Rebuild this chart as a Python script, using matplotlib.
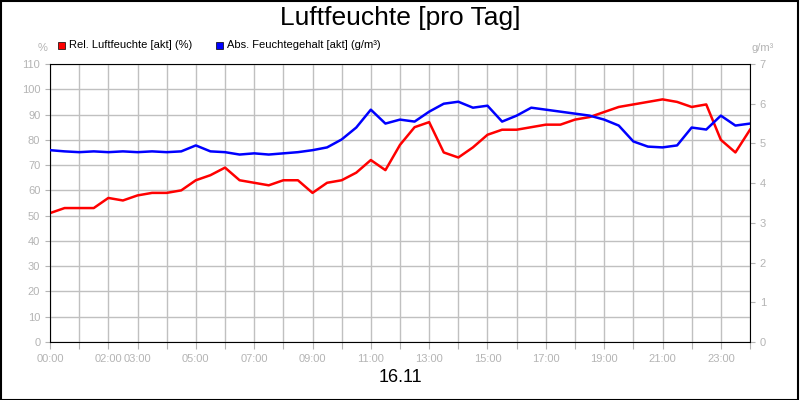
import numpy as np
import matplotlib.pyplot as plt
from matplotlib.patches import Rectangle

# half-hour samples, 0..24 h
hours = np.arange(0, 24.5, 0.5)
rel_hum = [51, 53, 53, 53, 57, 56, 58, 59, 59, 60, 64, 66, 69, 64, 63, 62,
           64, 64, 59, 63, 64, 67, 72, 68, 78, 85, 87, 75, 73, 77, 82, 84,
           84, 85, 86, 86, 88, 89, 91, 93, 94, 95, 96, 95, 93, 94, 80, 75, 84]
abs_hum = [4.83, 4.80, 4.78, 4.80, 4.78, 4.80, 4.78, 4.80, 4.78, 4.80, 4.95, 4.80,
           4.78, 4.72, 4.75, 4.72, 4.75, 4.78, 4.83, 4.90, 5.10, 5.40, 5.85, 5.50,
           5.60, 5.55, 5.80, 6.00, 6.05, 5.90, 5.95, 5.55, 5.70, 5.90, 5.85, 5.80,
           5.75, 5.70, 5.60, 5.45, 5.05, 4.92, 4.90, 4.95, 5.40, 5.35, 5.70, 5.45,
           5.50]
x_labels = {0: "00:00", 2: "02:00", 3: "03:00", 5: "05:00", 7: "07:00", 9: "09:00",
            11: "11:00", 13: "13:00", 15: "15:00", 17: "17:00", 19: "19:00",
            21: "21:00", 23: "23:00"}

grey = "#b4b4b4"
plt.rcParams['font.family'] = ['Liberation Sans', 'DejaVu Sans']
fig = plt.figure(figsize=(8, 4), dpi=100)
fig.patches.append(Rectangle((0.001, 0.001), 0.997, 0.997, transform=fig.transFigure,
                             fill=False, ec="black", lw=1.5))
ax = fig.add_axes([50 / 800, 58 / 400, 700 / 800, 278 / 400])
ax2 = ax.twinx()

ax.plot(hours, rel_hum, color="#ff0000", lw=1.8)
ax2.plot(hours, abs_hum, color="#0000ff", lw=1.8)

ax.set_xlim(0, 24)
ax.set_ylim(0, 110)
ax2.set_ylim(0, 7)
ax.set_yticks(np.arange(0, 111, 10))
ax2.set_yticks(np.arange(0, 8, 1))
ax.set_xticks(np.arange(0, 25, 1))
ax.set_xticklabels([x_labels.get(h, "") for h in range(25)])
ax.grid(True, color="#c0c0c0", lw=1)
ax.set_axisbelow(True)
for a in (ax, ax2):
    a.tick_params(colors=grey, labelsize=8, labelcolor=grey)
    for s in a.spines.values():
        s.set_visible(False)
ax.spines['left'].set_visible(True)
ax.spines['bottom'].set_visible(True)
ax.spines['top'].set_visible(True)
ax2.spines['right'].set_visible(True)
ax.tick_params(axis='x', length=5)

fig.text(0.5, 0.955, "Luftfeuchte [pro Tag]", ha="center", va="center", fontsize=19)
fig.text(0.5, 0.055, "16.11", ha="center", va="center", fontsize=13)
fig.text(38 / 800, 1 - 48 / 400, "%", ha="left", va="center", fontsize=8, color=grey)
fig.text(752 / 800, 1 - 48 / 400, "g/m³", ha="left", va="center", fontsize=8, color=grey)
fig.patches.append(Rectangle((58 / 800, 1 - 49 / 400), 7 / 800, 7 / 400, transform=fig.transFigure,
                             fc="#ff0000", ec="black", lw=0.5))
fig.text(69 / 800, 1 - 45 / 400, "Rel. Luftfeuchte [akt] (%)", ha="left", va="center", fontsize=8)
fig.patches.append(Rectangle((216 / 800, 1 - 49 / 400), 7 / 800, 7 / 400, transform=fig.transFigure,
                             fc="#0000ff", ec="black", lw=0.5))
fig.text(227 / 800, 1 - 45 / 400, "Abs. Feuchtegehalt [akt] (g/m³)", ha="left", va="center", fontsize=8)

fig.savefig("out.png")
